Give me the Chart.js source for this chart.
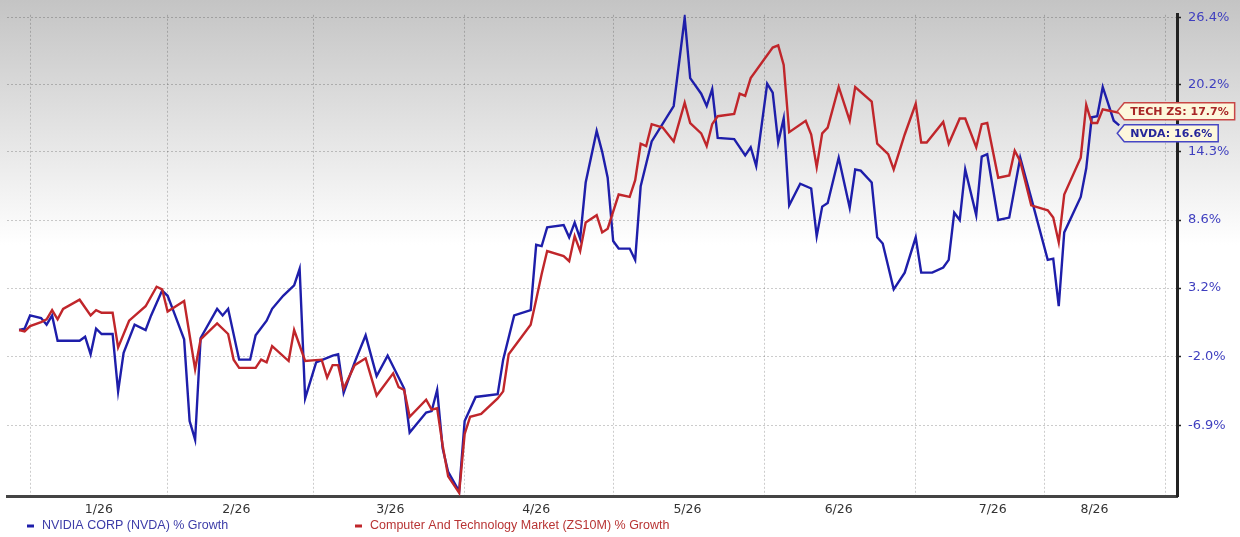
<!DOCTYPE html>
<html><head><meta charset="utf-8">
<script src="https://cdn.jsdelivr.net/npm/chart.js@4.4.1/dist/chart.umd.min.js"></script>
<style>
html,body{margin:0;padding:0;background:#fff;}
#wrap{position:relative;width:1240px;height:537px;background:linear-gradient(to bottom,#c4c4c4 0px,#ffffff 245px,#ffffff 537px);}
canvas{display:block;}
</style></head><body>
<div id="wrap"><canvas id="c" width="1240" height="537"></canvas></div>
<script>
// ---- data (trading-session index, % growth) ----
const nvdaDay = [0,1,2,4,5,6,7,11,12,13,14,15,17,18,19,21,23,24,26,27,28,30,31,32,33,36,37,38,40,42,43,45,46,48,50,51,52,54,57,58,59,61,63,65,67,69,70,71,74,75,76,77,78,80,81,83,87,88,90,93,94,95,96,99,100,101,102,103,105,106,107,108,109,111,112,113,115,119,121,122,124,125,126,127,130,132,133,134,136,137,138,139,140,142,144,145,146,147,149,151,152,153,155,156,157,159,161,163,164,166,168,169,170,171,172,174,175,176,178,180,182,184,187,188,189,190,193,194,195,196,197,199,200];
const nvdaPct = [0.0,0.1,1.1,0.9,0.4,1.1,-0.8,-0.8,-0.5,-1.8,0.1,-0.3,-0.3,-4.5,-1.7,0.4,0.0,1.1,3.0,2.6,1.5,-0.7,-6.6,-7.9,-0.6,1.6,1.1,1.6,-2.2,-2.2,-0.4,0.7,1.6,2.6,3.4,4.7,-5.0,-2.4,-1.9,-1.8,-4.6,-2.4,-0.4,-3.4,-1.9,-3.5,-4.3,-7.4,-6.0,-5.9,-4.4,-8.5,-10.1,-11.4,-6.6,-4.9,-4.7,-2.2,1.1,1.5,6.6,6.5,8.0,8.2,7.2,8.4,7.1,11.7,16.1,14.3,12.1,6.9,6.3,6.3,5.4,11.4,15.2,18.3,26.4,20.8,19.4,18.3,19.8,15.5,15.4,14.0,14.7,13.1,20.3,19.5,15.1,17.2,9.8,11.6,11.2,7.3,9.7,10.0,13.8,9.6,12.8,12.7,11.7,7.2,6.7,3.1,4.4,7.2,4.4,4.4,4.8,5.4,9.2,8.6,12.8,9.0,13.9,14.1,8.6,8.8,13.8,10.4,5.4,5.5,1.8,7.6,10.5,12.9,17.3,17.4,20.0,17.0,16.6];
const techDay = [0,1,2,4,5,6,7,8,11,13,14,15,17,18,20,23,25,26,27,30,32,33,36,38,39,40,43,44,45,46,49,50,52,55,56,57,58,59,61,63,65,68,69,70,71,74,75,76,77,78,80,81,82,84,87,88,89,93,94,95,96,99,100,101,102,103,105,106,107,109,111,112,113,114,115,117,119,121,122,124,125,126,127,130,131,132,133,137,138,139,140,143,144,145,146,147,149,151,152,155,156,158,159,161,163,164,165,168,169,171,172,174,175,176,178,180,181,182,184,187,188,189,190,193,194,195,196,197,198,199,200];
const techPct = [0.0,-0.1,0.3,0.6,0.8,1.5,0.8,1.6,2.3,1.1,1.5,1.3,1.3,-1.3,0.7,1.8,3.3,3.1,1.4,2.2,-2.9,-0.7,0.5,-0.3,-2.2,-2.8,-2.8,-2.2,-2.4,-1.2,-2.3,0.0,-2.3,-2.2,-3.5,-2.6,-2.6,-4.3,-2.6,-2.1,-4.8,-3.2,-4.2,-4.4,-6.3,-5.1,-5.8,-5.7,-8.3,-10.4,-11.5,-7.5,-6.3,-6.1,-5.0,-4.5,-1.8,0.4,2.3,4.3,6.1,5.7,5.3,7.3,6.1,8.4,9.0,7.6,7.9,10.7,10.5,11.9,15.0,14.8,16.7,16.4,15.2,18.6,16.8,15.9,14.8,16.7,17.4,17.6,19.4,19.2,20.8,23.6,23.8,22.0,16.0,17.0,15.8,13.0,15.9,16.4,20.0,17.0,20.0,18.7,15.0,14.1,12.8,15.8,18.5,15.1,15.1,16.9,15.0,17.2,17.2,14.7,16.7,16.8,12.1,12.3,14.4,13.5,9.8,9.4,8.8,6.8,10.7,13.8,18.4,16.8,16.8,18.0,17.9,17.8,17.7];
const monthStartDay = [2, 27, 53.5, 81, 108, 135.5, 163, 186.5, 208.5];
const monthLabelDay = [14.5, 39.5, 67.5, 94, 121.5, 149, 177, 195.5];
const monthLabels = ['1/26','2/26','3/26','4/26','5/26','6/26','7/26','8/26'];
const yTickPct = [26.4, 20.2, 14.3, 8.6, 3.2, -2.0, -6.9];
const seriesNames = ['NVIDIA CORP (NVDA) % Growth', 'Computer And Technology Market (ZS10M) % Growth'];
const calloutNames = ['NVDA', 'TECH ZS'];

// ---- styles ----
const BLUE = '#1e1eaa', RED = '#c0262b';
const GRID = 'rgba(0,0,0,0.2)';

const toPts = (d, p) => d.map((x, i) => ({x: x, y: 100 + p[i]}));

const calloutPlugin = {
  id: 'callouts',
  afterDatasetsDraw(chart) {
    const ctx = chart.ctx, xs = chart.scales.x, ys = chart.scales.y;
    const items = [
      {name: calloutNames[1], pct: techPct[techPct.length-1], day: techDay[techDay.length-1], stroke: '#c84646', color: '#a82626'},
      {name: calloutNames[0], pct: nvdaPct[nvdaPct.length-1], day: nvdaDay[nvdaDay.length-1], stroke: '#4646c4', color: '#26269a'}
    ];
    items.forEach(it => { it.py = ys.getPixelForValue(100 + it.pct); it.px = xs.getPixelForValue(it.day); });
    items.sort((a, b) => a.py - b.py);
    const h = 17, gap = 5;
    items[0].cy = items[0].py - 1.5;
    for (let i = 1; i < items.length; i++) items[i].cy = Math.max(items[i].py, items[i-1].cy + h + gap);
    ctx.save();
    ctx.font = 'bold 11px "DejaVu Sans"';
    ctx.textBaseline = 'middle';
    items.forEach(it => {
      const label = it.name + ': ' + it.pct.toFixed(1) + '%';
      const w = ctx.measureText(label).width;
      const tipX = it.px - 2, bodyX = tipX + 7, bodyW = w + 12, cy = it.cy;
      ctx.beginPath();
      ctx.moveTo(tipX, cy);
      ctx.lineTo(bodyX, cy - h/2);
      ctx.lineTo(bodyX + bodyW, cy - h/2);
      ctx.lineTo(bodyX + bodyW, cy + h/2);
      ctx.lineTo(bodyX, cy + h/2);
      ctx.closePath();
      ctx.fillStyle = '#fdf7dc';
      ctx.fill();
      ctx.lineWidth = 1.5;
      ctx.strokeStyle = it.stroke;
      ctx.stroke();
      ctx.fillStyle = it.color;
      ctx.fillText(label, bodyX + 6, cy + 0.5);
    });
    ctx.restore();
  }
};

const legendPlugin = {
  id: 'bottomLegend',
  afterDraw(chart) {
    const ctx = chart.ctx;
    const y = chart.height - 11;
    const entries = [
      {x: 27, text: seriesNames[0], mark: BLUE, color: '#3c3ca8'},
      {x: 355, text: seriesNames[1], mark: RED, color: '#b83434'}
    ];
    ctx.save();
    ctx.font = '12.5px "Liberation Sans"';
    ctx.textBaseline = 'middle';
    entries.forEach(e => {
      ctx.fillStyle = e.mark;
      ctx.fillRect(e.x, y - 1.5, 7, 3);
      ctx.fillStyle = e.color;
      ctx.fillText(e.text, e.x + 15, y);
    });
    ctx.restore();
  }
};

new Chart(document.getElementById('c'), {
  type: 'line',
  data: {
    datasets: [
      {label: seriesNames[0], data: toPts(nvdaDay, nvdaPct), borderColor: BLUE, borderWidth: 2.4, pointRadius: 0, tension: 0, fill: false, order: 1},
      {label: seriesNames[1], data: toPts(techDay, techPct), borderColor: RED, borderWidth: 2.4, pointRadius: 0, tension: 0, fill: false, order: 0}
    ]
  },
  options: {
    responsive: false, animation: false, devicePixelRatio: 1,
    layout: {padding: {left: 7, top: 7, right: 0, bottom: 22}},
    plugins: {legend: {display: false}, tooltip: {enabled: false}},
    scales: {
      x: {
        type: 'linear', min: -2.2, max: 210.5,
        afterBuildTicks: s => {
          s.ticks = monthStartDay.concat(monthLabelDay).sort((a, b) => a - b).map(v => ({value: v}));
        },
        afterFit: s => { s.height = 19; },
        grid: {
          color: c => (c.tick && monthStartDay.includes(c.tick.value)) ? GRID : 'rgba(0,0,0,0)',
          drawTicks: false, lineWidth: 1
        },
        border: {display: true, color: '#444', width: 3, dash: [2, 2]},
        ticks: {
          autoSkip: false, maxRotation: 0, padding: 6, color: '#333',
          font: {family: 'DejaVu Sans', size: 12.5},
          callback: v => { const k = monthLabelDay.indexOf(v); return k >= 0 ? monthLabels[k] : ''; }
        }
      },
      y: {
        type: 'logarithmic', position: 'right', min: 88.29, max: 126.68,
        afterBuildTicks: s => { s.ticks = yTickPct.map(p => ({value: 100 + p})); },
        afterFit: s => { s.width = 63; },
        grid: {color: GRID, drawTicks: true, tickLength: 4, tickColor: '#222', tickWidth: 1.5, lineWidth: 1},
        border: {display: true, color: '#222', width: 3, dash: [2, 2]},
        ticks: {
          padding: 7, color: '#3f3fbf',
          font: {family: 'DejaVu Sans', size: 13},
          callback: v => (v - 100).toFixed(1) + '%'
        }
      }
    }
  },
  plugins: [calloutPlugin, legendPlugin]
});
</script>
</body></html>
